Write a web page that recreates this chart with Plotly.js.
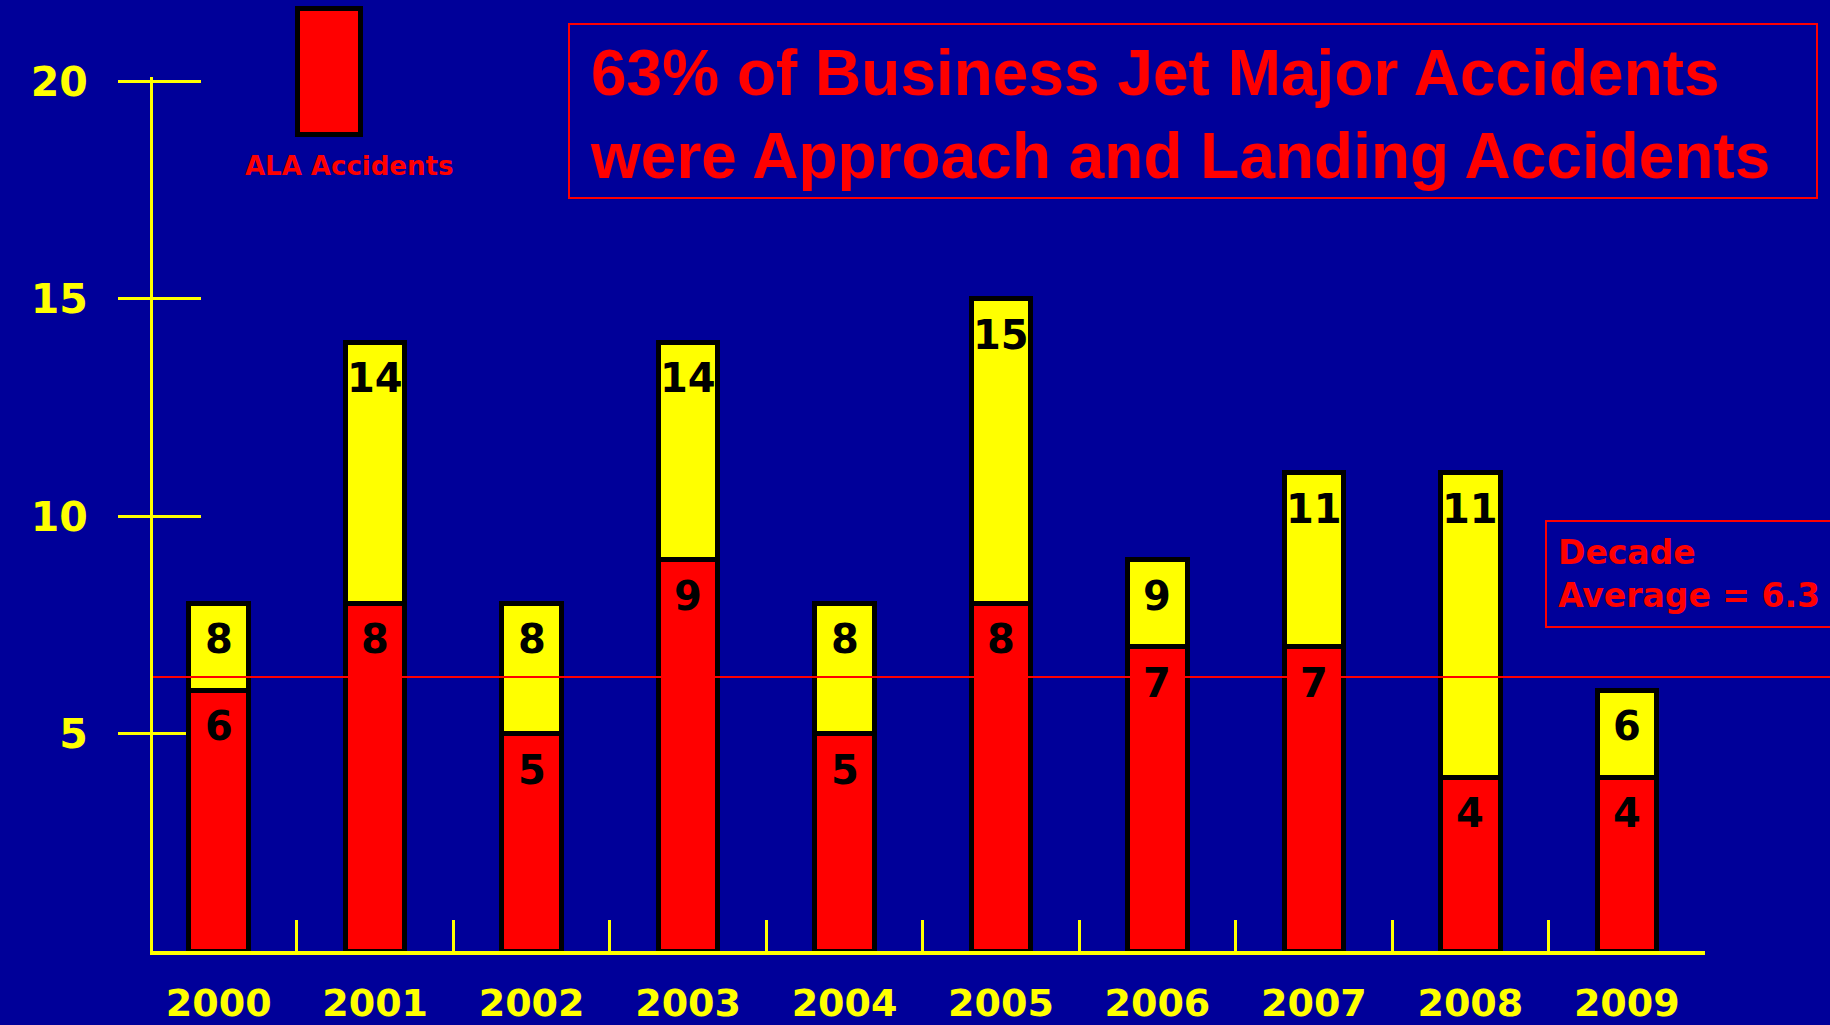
<!DOCTYPE html>
<html>
<head>
<meta charset="utf-8">
<script src="https://cdn.plot.ly/plotly-3.0.1.min.js"></script>
<style>
  html, body { margin: 0; padding: 0; background: #000099; }
  #chart { width: 1830px; height: 1025px; }
</style>
</head>
<body>
<div id="chart"></div>
<script>
// ---- data ----
const years = ['2000', '2001', '2002', '2003', '2004', '2005', '2006', '2007', '2008', '2009'];
const alaAccidents = [6, 8, 5, 9, 5, 8, 7, 7, 4, 4];
const majorAccidents = [8, 14, 8, 14, 8, 15, 9, 11, 11, 6];
const decadeAverage = 6.3;
const yTickValues = [5, 10, 15, 20];
const titleText = '63% of Business Jet Major Accidents<br>were Approach and Landing Accidents';
const averageText = 'Decade<br>Average = 6.3';
const legendText = 'ALA Accidents';

// ---- layout geometry (page pixels) ----
const W = 1830, H = 1025;
const plotL = 153, plotR = 1705, plotB = 951, plotT = 77;
const pw = plotR - plotL, ph = plotB - plotT;
const px = v => (v - plotL) / pw;
const py = v => (plotB - v) / ph;

const BLUE = '#000099', RED = '#ff0000', YELLOW = '#ffff00';
const otherAccidents = majorAccidents.map((t, i) => t - alaAccidents[i]);
const yRange = [0, 20.1];

const barLine = { color: '#000000', width: 5 };
const traces = [
  { type: 'bar', x: years, y: alaAccidents, name: 'ALA Accidents',
    marker: { color: RED, line: barLine }, width: 0.38, hoverinfo: 'skip' },
  { type: 'bar', x: years, y: otherAccidents, name: 'Other Accidents',
    marker: { color: YELLOW, line: barLine }, width: 0.38, hoverinfo: 'skip' },
  // carries the inner half of the crossing y ticks
  { type: 'scatter', x: [], y: [], xaxis: 'x', yaxis: 'y2', hoverinfo: 'skip', showlegend: false }
];

const labelFont = { family: 'DejaVu Sans', size: 40, color: '#000000', weight: 'bold' };
const annotations = [];
years.forEach((yr, i) => {
  annotations.push({ x: i, y: alaAccidents[i], xref: 'x', yref: 'y', text: String(alaAccidents[i]),
    showarrow: false, xanchor: 'center', yanchor: 'middle', yshift: -36, font: labelFont });
  annotations.push({ x: i, y: majorAccidents[i], xref: 'x', yref: 'y', text: String(majorAccidents[i]),
    showarrow: false, xanchor: 'center', yanchor: 'middle', yshift: -36, font: labelFont });
});

annotations.push({
  xref: 'paper', yref: 'paper', x: px(588), y: py(114), xanchor: 'left', yanchor: 'middle',
  text: titleText, showarrow: false, align: 'left',
  font: { family: 'Liberation Sans', size: 64, color: RED, weight: 'bold' }
});
annotations.push({
  xref: 'paper', yref: 'paper', x: px(1545), y: py(520), xanchor: 'left', yanchor: 'top',
  text: averageText, showarrow: false, align: 'left', width: 320,
  bordercolor: RED, borderwidth: 2, borderpad: 11,
  font: { family: 'DejaVu Sans', size: 33, color: RED, weight: 'bold' }
});
annotations.push({
  xref: 'paper', yref: 'paper', x: px(349), y: py(166), xanchor: 'center', yanchor: 'middle',
  text: legendText, showarrow: false,
  font: { family: 'DejaVu Sans', size: 26, color: RED, weight: 'bold' }
});

const shapes = [
  { type: 'line', xref: 'paper', yref: 'y', x0: 0, x1: px(1835), y0: decadeAverage, y1: decadeAverage,
    line: { color: RED, width: 2 }, layer: 'above' },
  { type: 'rect', xref: 'paper', yref: 'paper', x0: px(297.5), x1: px(360.5), y0: py(134.5), y1: py(8.5),
    fillcolor: RED, line: { color: '#000000', width: 5 } },
  { type: 'rect', xref: 'paper', yref: 'paper', x0: px(569), x1: px(1817), y0: py(198), y1: py(24),
    fillcolor: 'rgba(0,0,0,0)', line: { color: RED, width: 2 } }
];

const layout = {
  width: W, height: H,
  paper_bgcolor: BLUE, plot_bgcolor: BLUE,
  margin: { l: plotL, r: W - plotR, t: plotT, b: H - plotB, pad: 0 },
  showlegend: false,
  barmode: 'stack',
  xaxis: {
    type: 'category', range: [-0.42, 9.5], fixedrange: true,
    showline: true, linecolor: YELLOW, linewidth: 4, showgrid: false, zeroline: false,
    ticks: 'inside', tickson: 'boundaries', ticklen: 31, tickwidth: 3, tickcolor: YELLOW,
    tickfont: { family: 'DejaVu Sans', size: 38, color: YELLOW, weight: 'bold' },
    ticklabelstandoff: 15, layer: 'below traces'
  },
  yaxis: {
    range: yRange, fixedrange: true,
    showline: true, linecolor: YELLOW, linewidth: 3, showgrid: false, zeroline: false,
    tickvals: yTickValues, ticktext: yTickValues.map(String),
    ticks: 'outside', ticklen: 32, tickwidth: 3, tickcolor: YELLOW,
    tickfont: { family: 'DejaVu Sans', size: 41, color: YELLOW, weight: 'bold' },
    ticklabelstandoff: 22, layer: 'below traces'
  },
  yaxis2: {
    overlaying: 'y', anchor: 'x', side: 'left', range: yRange, fixedrange: true,
    showline: false, showgrid: false, zeroline: false, showticklabels: false,
    tickvals: yTickValues, ticks: 'inside', ticklen: 48, tickwidth: 3, tickcolor: YELLOW,
    layer: 'below traces'
  },
  annotations: annotations,
  shapes: shapes
};

Plotly.newPlot('chart', traces, layout, { staticPlot: true, displayModeBar: false });
</script>
</body>
</html>
